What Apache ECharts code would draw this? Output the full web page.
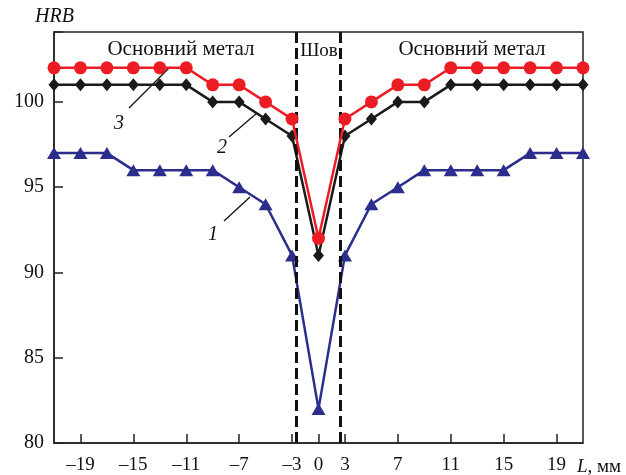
<!DOCTYPE html>
<html><head><meta charset="utf-8">
<script src="https://cdn.jsdelivr.net/npm/echarts@6/dist/echarts.min.js"></script>
<style>html,body{margin:0;padding:0;background:#fff}#c{width:626px;height:475px}</style>
</head><body><div id="c"></div>
<script>
// Distance from weld centre, mm (one category per measured point)
const positions = [-21,-19,-17,-15,-13,-11,-9,-7,-5,-3,0,3,5,7,9,11,13,15,17,19,21];
// Tick labels shown on the x axis
const shownTicks = [-19,-15,-11,-7,-3,0,3,7,11,15,19];
// HRB hardness, curves 1, 2, 3
const curve1 = [97,97,97,96,96,96,96,95,94,91,82,91,94,95,96,96,96,96,97,97,97];
const curve2 = [101,101,101,101,101,101,100,100,99,98,91,98,99,100,100,101,101,101,101,101,101];
const curve3 = [102,102,102,102,102,102,101,101,100,99,92,99,100,101,101,102,102,102,102,102,102];
// Weld seam boundaries, mm
const seamEdges = [-2.5, 2.5];

const FONT = '"Liberation Serif","DejaVu Serif",serif';

function toIndex(L){
  for (let i=0;i<positions.length-1;i++){
    if (L>=positions[i] && L<=positions[i+1]) return i + (L-positions[i])/(positions[i+1]-positions[i]);
  }
  return 0;
}
const tickFilter = (idx, val) => shownTicks.includes(Number(val));

const chart = echarts.init(document.getElementById('c'), null, {renderer:'canvas'});
const axisCol = '#222';
chart.setOption({
  animation:false,
  backgroundColor:'#fff',
  grid:{left:54, right:43, top:32, bottom:30, show:true, borderColor:axisCol, borderWidth:1.5},
  xAxis:[{
    type:'category', boundaryGap:false, data:positions.map(String),
    axisLine:{lineStyle:{color:axisCol, width:1.5}},
    axisTick:{inside:true, length:9, interval:tickFilter, lineStyle:{color:axisCol, width:1.5}},
    axisLabel:{interval:tickFilter, margin:13, color:'#111', fontFamily:FONT, fontSize:19,
      formatter:v=>String(v).replace('-', '\u2013')},
    splitLine:{show:false}
  },{
    type:'value', min:0, max:positions.length-1, show:false
  }],
  yAxis:{
    type:'value', min:80, max:104.1, interval:5,
    axisLine:{show:true, lineStyle:{color:axisCol, width:1.5}},
    axisTick:{show:true, inside:true, length:9, lineStyle:{color:axisCol, width:1.5}},
    axisLabel:{margin:10, color:'#111', fontFamily:FONT, fontSize:20,
      formatter:v=> (v%5===0 ? String(v) : '')},
    splitLine:{show:false}
  },
  series:[
    {type:'line', xAxisIndex:1, data:[], z:1, silent:true,
      markLine:{symbol:'none', silent:true, animation:false, label:{show:false},
        lineStyle:{color:'#111', width:3, type:[11,5]},
        data: seamEdges.map(L=>({xAxis: toIndex(L)}))}},
    {name:'1', type:'line', data:curve1, z:3, symbol:'triangle', symbolSize:[14,12],
      lineStyle:{color:'#2b2e8c', width:2.5}, itemStyle:{color:'#2b2e8c'}},
    {name:'2', type:'line', data:curve2, z:4, symbol:'diamond', symbolSize:[11,13],
      lineStyle:{color:'#1a1a1a', width:2.5}, itemStyle:{color:'#1a1a1a'}},
    {name:'3', type:'line', data:curve3, z:5, symbol:'circle', symbolSize:13,
      lineStyle:{color:'#ec1c24', width:2.5}, itemStyle:{color:'#ec1c24'}}
  ],
  graphic:[
    {type:'text', left:35, top:7, style:{text:'HRB', font:'italic 20px '+FONT, fill:'#111'}},
    {type:'text', x:181, y:49, style:{text:'Основний метал', font:'21px '+FONT, fill:'#111', align:'center', verticalAlign:'middle'}},
    {type:'text', x:472, y:49, style:{text:'Основний метал', font:'21px '+FONT, fill:'#111', align:'center', verticalAlign:'middle'}},
    {type:'text', x:319, y:51, style:{text:'Шов', font:'19px '+FONT, fill:'#111', align:'center', verticalAlign:'middle'}},
    {type:'text', x:577, y:467, style:{text:'{i|L}, мм', fill:'#111', verticalAlign:'middle',
      rich:{i:{font:'italic 19px '+FONT, fill:'#111'}}, font:'19px '+FONT}},
    {type:'line', shape:{x1:129,y1:108,x2:170,y2:67}, style:{stroke:'#111', lineWidth:1.3}},
    {type:'line', shape:{x1:229,y1:137,x2:257,y2:113}, style:{stroke:'#111', lineWidth:1.3}},
    {type:'line', shape:{x1:224,y1:221,x2:250,y2:197}, style:{stroke:'#111', lineWidth:1.3}},
    {type:'text', x:119, y:124, style:{text:'3', font:'italic 20px '+FONT, fill:'#111', align:'center', verticalAlign:'middle'}},
    {type:'text', x:222, y:148, style:{text:'2', font:'italic 20px '+FONT, fill:'#111', align:'center', verticalAlign:'middle'}},
    {type:'text', x:213, y:235, style:{text:'1', font:'italic 20px '+FONT, fill:'#111', align:'center', verticalAlign:'middle'}}
  ]
});
</script></body></html>
